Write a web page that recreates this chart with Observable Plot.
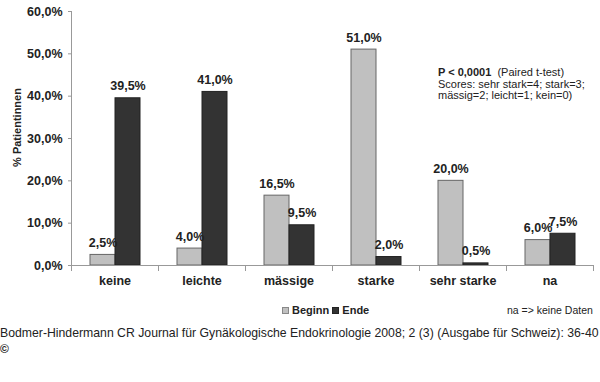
<!DOCTYPE html>
<html>
<head>
<meta charset="utf-8">
<script src="https://cdn.jsdelivr.net/npm/d3@7"></script>
<script src="https://cdn.jsdelivr.net/npm/@observablehq/plot@0.6"></script>
<style>
  html, body { margin: 0; padding: 0; background: #fff; }
  #wrap { position: relative; width: 600px; height: 382px; font-family: "Liberation Sans", Arial, sans-serif; color: #222; overflow: hidden; }
  #chart { position: absolute; left: 0; top: 0; }
  .note { position: absolute; left: 438px; top: 67px; font-size: 11px; line-height: 11.5px; white-space: nowrap; }
  .legend { position: absolute; left: 282px; top: 303px; font-size: 11px; font-weight: bold; white-space: nowrap; line-height: 14px; }
  .legend .sw { display: inline-block; width: 7px; height: 7px; margin-right: 3px; vertical-align: 0px; box-sizing: border-box; }
  .na { position: absolute; left: 507px; top: 304px; font-size: 10.5px; white-space: nowrap; line-height: 12px; }
  .caption { position: absolute; left: 0; top: 326px; font-size: 12.25px; white-space: nowrap; line-height: 14px; }
  .copy { position: absolute; left: 0; top: 342px; font-size: 12px; font-weight: bold; line-height: 14px; }
</style>
</head>
<body>
<div id="wrap">
  <div id="chart"></div>
  <div class="note"><b>P &lt; 0,0001</b>&nbsp; (Paired t-test)<br>Scores: sehr stark=4; stark=3;<br>mässig=2; leicht=1; kein=0)</div>
  <div class="legend"><span class="sw" style="background:#c0c0c0;border:1px solid #888"></span>Beginn <span class="sw" style="background:#333;border:1px solid #222"></span>Ende</div>
  <div class="na">na =&gt; keine Daten</div>
  <div class="caption" id="cap">Bodmer-Hindermann CR Journal für Gynäkologische Endokrinologie 2008; 2 (3) (Ausgabe für Schweiz): 36-40</div>
  <div class="copy">©</div>
</div>
<script>
const categories = ["keine", "leichte", "mässige", "starke", "sehr starke", "na"];
const series = ["Beginn", "Ende"];
const beginn = [2.5, 4.0, 16.5, 51.0, 20.0, 6.0];
const ende = [39.5, 41.0, 9.5, 2.0, 0.5, 7.5];
const yTicks = [0, 10, 20, 30, 40, 50, 60];
const yLabel = "% Patientinnen";
const seriesColors = ["#c0c0c0", "#333333"];
const seriesStrokes = ["#666666", "#222222"];

const data = categories.flatMap((c, i) => [
  {cat: c, series: series[0], value: beginn[i]},
  {cat: c, series: series[1], value: ende[i]}
]);
const fmt = v => v.toFixed(1).replace(".", ",") + "%";

const chart = Plot.plot({
  width: 600,
  height: 300,
  marginTop: 11,
  marginBottom: 35,
  marginLeft: 69,
  marginRight: 6,
  style: {fontFamily: "'Liberation Sans', Arial, sans-serif", background: "white", color: "#222"},
  fx: {domain: categories, padding: 0, label: null},
  x: {domain: series, paddingInner: 0, paddingOuter: 0.72, axis: null},
  y: {domain: [0, 60], label: null},
  color: {domain: series, range: seriesColors},
  marks: [
    Plot.barY(data, {
      fx: "cat", x: "series", y: "value", fill: "series",
      stroke: d => seriesStrokes[series.indexOf(d.series)], strokeWidth: 1
    }),
    Plot.ruleY([0], {stroke: "#999"}),
    Plot.frame({anchor: "left", facetAnchor: "left", stroke: "#999"}),
    Plot.frame({anchor: "left", insetTop: 254, insetBottom: -5, stroke: "#999"}),
    Plot.frame({anchor: "right", facetAnchor: "right", insetTop: 254, insetBottom: -5, stroke: "#999"}),
    Plot.text(data, {
      fx: "cat", x: "series", y: "value", text: d => fmt(d.value),
      dy: -12, fontWeight: "bold", fontSize: 12.5, fill: "#222"
    }),
    Plot.axisY({
      ticks: yTicks, tickFormat: fmt, tickSize: 3, tickPadding: 6,
      stroke: "#999", fill: "#222", fontWeight: "bold", fontSize: 12.5, label: null
    }),
    Plot.text([yLabel], {
      text: d => d, frameAnchor: "left", facetAnchor: "left", rotate: -90, textAnchor: "middle",
      dx: -54, dy: -11, fontWeight: "bold", fontSize: 11, fill: "#222"
    }),
    Plot.axisFx({
      anchor: "bottom", tickSize: 0, tickPadding: 11, fontWeight: "bold", fontSize: 12.5, fill: "#222", label: null
    })
  ]
});
document.getElementById("chart").appendChild(chart);
</script>
</body>
</html>
